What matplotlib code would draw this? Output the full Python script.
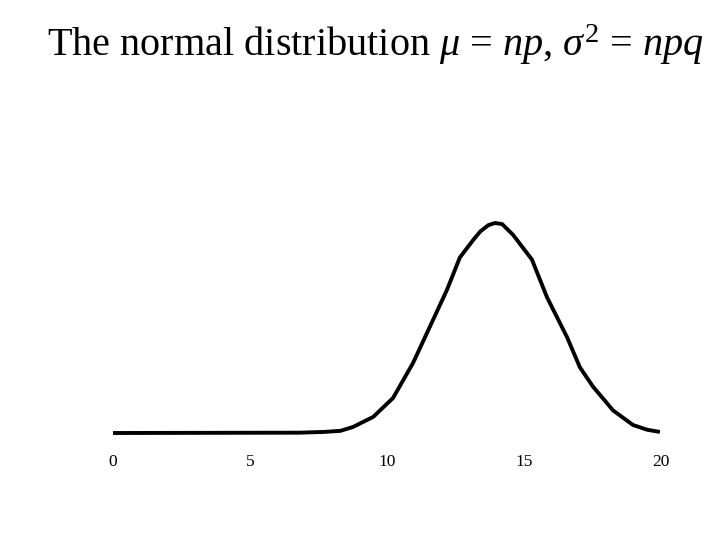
import matplotlib
matplotlib.use('Agg')
import matplotlib.pyplot as plt

plt.rcParams['font.family'] = ['Liberation Serif', 'DejaVu Serif']
plt.rcParams['mathtext.fontset'] = 'custom'
plt.rcParams['mathtext.rm'] = 'Liberation Serif'
plt.rcParams['mathtext.it'] = 'Liberation Serif:italic'

# points
x_vals = [0, 6.8, 7.7, 8.3, 8.76, 9.5, 10.22, 10.95, 11.68, 12.19, 12.66, 13.14, 13.4,
          13.7, 13.94, 14.2, 14.6, 15.29, 15.84, 16.57, 17.04, 17.52, 18.25, 18.98,
          19.5, 19.96]
y_vals = [0, 0.0003, 0.001, 0.002, 0.0056, 0.015, 0.0325, 0.065, 0.105, 0.133, 0.163,
          0.179, 0.187, 0.193, 0.195, 0.194, 0.184, 0.161, 0.126, 0.089, 0.061, 0.043,
          0.021, 0.0074, 0.003, 0.001]
tick_vals = [0, 5, 10, 15, 20]
title_text = r'The normal distribution $\mu$ = $np$, $\sigma^2$ = $npq$'

fig = plt.figure(figsize=(7.2, 5.4), dpi=100)
ax = fig.add_axes([113/720, 1 - 433/540, 548/720, 215.4/540])
ax.plot(x_vals, y_vals, color='black', lw=2.8, clip_on=False,
        solid_capstyle='butt', solid_joinstyle='round')
ax.set_xlim(0, 20)
ax.set_ylim(0, 0.2)
ax.set_xticks(tick_vals)
ax.tick_params(axis='x', length=0, pad=15, labelsize=12.5)
ax.set_yticks([])
for s in ax.spines.values():
    s.set_visible(False)

fig.text(375/720, 1 - 45/540, title_text, ha='center', va='center', fontsize=29)

fig.savefig('out.png', dpi=100)
